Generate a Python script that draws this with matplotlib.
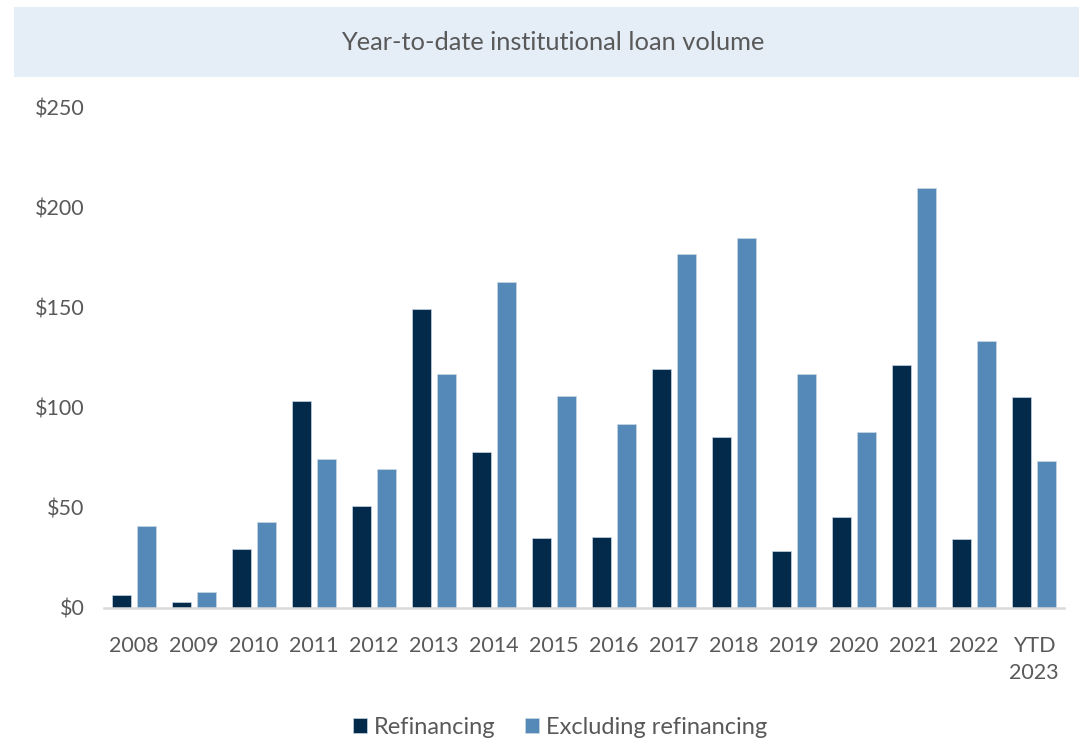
import numpy as np
import matplotlib.pyplot as plt
from matplotlib.patches import Rectangle

# Institutional loan volume, $bn
years = ['2008', '2009', '2010', '2011', '2012', '2013', '2014', '2015',
         '2016', '2017', '2018', '2019', '2020', '2021', '2022', 'YTD\n2023']
refinancing = [6.5, 3, 29.5, 103.5, 51, 149.3, 78, 35,
               35.4, 119.7, 85.5, 28.3, 45.3, 121.5, 34.3, 105.5]
excl_refinancing = [41, 8, 43, 74.5, 69.5, 116.8, 163, 106,
                    91.8, 177, 185, 117, 87.8, 209.8, 133.5, 73.5]
y_ticks = [0, 50, 100, 150, 200, 250]

navy = '#03294B'
steel = '#5589B8'
text_gray = '#595959'

plt.rcParams['font.family'] = ['Lato', 'DejaVu Sans']
plt.rcParams['font.size'] = 15.5

fig = plt.figure(figsize=(10.79, 7.38), dpi=100)

# title banner
fig.patches.append(Rectangle((14 / 1079, 1 - 77 / 738), 1 - 14 / 1079, 70 / 738,
                             transform=fig.transFigure, facecolor='#E5EDF7',
                             edgecolor='none', zorder=0))
fig.text(553 / 1079, 1 - 42 / 738, 'Year-to-date institutional loan volume',
         ha='center', va='center', fontsize=18.3, color=text_gray)

ax = fig.add_axes([104 / 1079, 1 - 608 / 738, 960 / 1079, 500 / 738])
x = np.arange(len(years))
w = 0.325
off = 0.207
ax.bar(x - off, refinancing, w, color=navy, edgecolor='#c9d6e4', linewidth=0.5,
       label='Refinancing')
ax.bar(x + off, excl_refinancing, w, color=steel, edgecolor='#c9d6e4', linewidth=0.5,
       label='Excluding refinancing')

ax.set_xlim(-0.5, len(years) - 0.5)
ax.set_ylim(0, 250)
ax.set_yticks(y_ticks)
ax.set_yticklabels([f'${v}' for v in y_ticks])
ax.set_xticks(x)
ax.set_xticklabels(years, linespacing=1.45)
ax.tick_params(axis='both', length=0, colors=text_gray, labelsize=15.5)
ax.tick_params(axis='y', pad=14)
ax.tick_params(axis='x', pad=20)
for s in ['top', 'right', 'left']:
    ax.spines[s].set_visible(False)
ax.spines['bottom'].set_color('#D9D9D9')
ax.spines['bottom'].set_linewidth(1.8)

fig.legend(loc='center', bbox_to_anchor=(560 / 1079, 1 - 727 / 738), ncol=2,
           frameon=False, handlelength=0.6, handleheight=0.6, handletextpad=0.3,
           columnspacing=1.25, labelcolor=text_gray, fontsize=17)

fig.savefig('out.png', dpi=100)
